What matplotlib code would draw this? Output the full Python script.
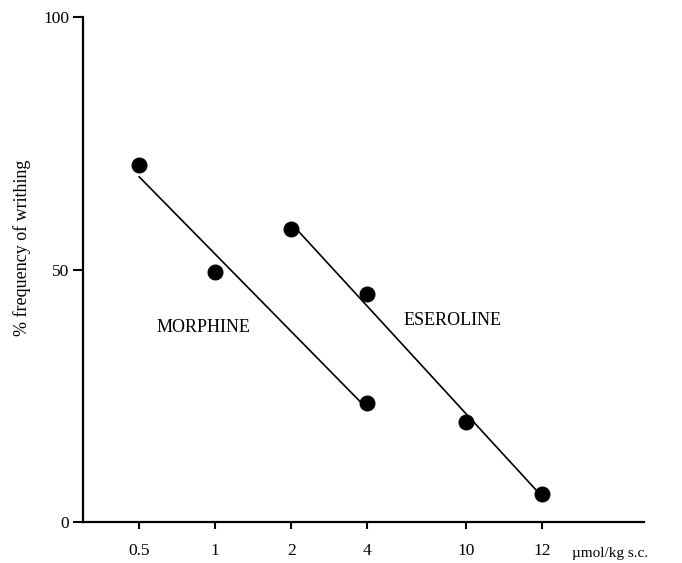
import numpy as np
import matplotlib.pyplot as plt

plt.rcParams['font.family'] = ['Liberation Serif', 'DejaVu Serif']

# Doses and where they sit along the (non-uniform) x axis
dose_labels = ['0.5', '1', '2', '4', '10', '12']
dose_pos = [0, 1, 2, 3, 4.3, 5.3]

# % frequency of writhing
morphine_idx = [0, 1, 3]
morphine_y = [70.7, 49.5, 23.6]
eseroline_idx = [2, 3, 4, 5]
eseroline_y = [58.0, 45.1, 19.8, 5.5]

fig = plt.figure(figsize=(6.82, 5.63), dpi=100)
ax = fig.add_axes([0.1217, 0.0728, 0.8223, 0.897])

for idx, yv in [(morphine_idx, morphine_y), (eseroline_idx, eseroline_y)]:
    xv = np.array([dose_pos[i] for i in idx])
    yv = np.array(yv)
    # regression line drawn between the first and last dose
    k, b = np.polyfit(xv, yv, 1)
    xl = np.array([xv[0], xv[-1]])
    ax.plot(xl, k * xl + b, color='black', lw=1.2, zorder=2)
    ax.plot(xv, yv, 'o', color='black', ms=10.5, zorder=3)

ax.text(0.84, 38.6, 'MORPHINE', ha='center', va='center', fontsize=13)
ax.text(4.12, 40.0, 'ESEROLINE', ha='center', va='center', fontsize=13)

ax.set_xlim(-0.74, 6.64)
ax.set_ylim(0, 100)
ax.set_xticks(dose_pos)
ax.set_xticklabels(dose_labels)
ax.set_yticks([0, 50, 100])
ax.tick_params(axis='both', direction='out', width=1.5, labelsize=12.5)
ax.tick_params(axis='x', length=5, pad=10)
ax.tick_params(axis='y', length=7, pad=3)

for s in ['top', 'right']:
    ax.spines[s].set_visible(False)
for s in ['left', 'bottom']:
    ax.spines[s].set_linewidth(1.6)

ax.set_ylabel('% frequency of writhing', fontsize=13)
ax.yaxis.set_label_coords(-0.093, 0.543)

fig.text(572 / 682, 1 - 553 / 563, 'µmol/kg s.c.', ha='left', va='center', fontsize=11)

fig.savefig('out.png', dpi=100)
